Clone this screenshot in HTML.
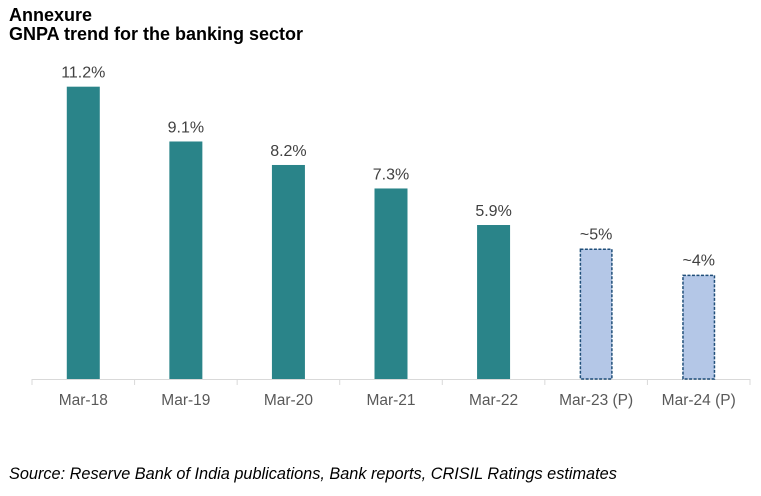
<!DOCTYPE html>
<html><head><meta charset="utf-8"><style>
html,body{margin:0;padding:0;background:#fff;}
body{width:761px;height:496px;position:relative;overflow:hidden;font-family:"Liberation Sans",Arial,sans-serif;}
.t{position:absolute;left:9px;font-weight:bold;font-size:18px;color:#000;line-height:20px;}
</style></head><body>
<div class="t" style="top:5px">Annexure</div>
<div class="t" style="top:24px">GNPA trend for the banking sector</div>
<svg id="c" width="761" height="496" style="position:absolute;left:0;top:0"></svg>
<div style="position:absolute;left:9px;top:465px;font-style:italic;font-size:16.3px;color:#000;">Source: Reserve Bank of India publications, Bank reports, CRISIL Ratings estimates</div>
<script>
const categories=["Mar-18","Mar-19","Mar-20","Mar-21","Mar-22","Mar-23 (P)","Mar-24 (P)"];
const values=[11.2,9.1,8.2,7.3,5.9,5,4];
const valueLabels=["11.2%","9.1%","8.2%","7.3%","5.9%","~5%","~4%"];
const projected=[false,false,false,false,false,true,true];
const NS="http://www.w3.org/2000/svg";
const svg=document.getElementById('c');
const x0=32,x1=750,base=379,pxPer=26.1;
const step=(x1-x0)/categories.length;
const xc=i=>x0+step*(i+0.5);
const y=v=>base-v*pxPer;
function mk(t,a){const e=document.createElementNS(NS,t);for(const k in a)e.setAttribute(k,a[k]);svg.appendChild(e);return e;}
const ax=mk('line',{x1:x0,x2:x1,y1:base+0.5,y2:base+0.5,stroke:'#d9d9d9','stroke-width':1});


for(let i=0;i<=categories.length;i++){
  const tk=mk('line',{x1:x0+step*i,x2:x0+step*i,y1:base,y2:base+6,stroke:'#d9d9d9'});
  
  
}
const bw=33;
values.forEach((v,i)=>{
  const p=projected[i];
  const r=mk('rect',{x:xc(i)-bw/2+(p?0.75:0),y:y(v)+(p?0.75:0),width:bw-(p?1.5:0),height:v*pxPer-(p?0.75:0),
    fill:p?'#b4c7e7':'#2a8489',stroke:p?'#1f4e79':'none','stroke-width':p?1.5:0,'stroke-dasharray':p?'3,1.5':'none'});
  
  
  const l=mk('text',{x:xc(i),y:y(v)-9,'text-anchor':'middle','font-size':16,fill:'#404040','font-family':'Liberation Sans,Arial,sans-serif'});
  l.textContent=valueLabels[i];
  
  
  const c=mk('text',{x:xc(i),y:base+26,'text-anchor':'middle','font-size':15.5,fill:'#595959','font-family':'Liberation Sans,Arial,sans-serif'});
  c.textContent=categories[i];
  
  
});
</script>
</body></html>
